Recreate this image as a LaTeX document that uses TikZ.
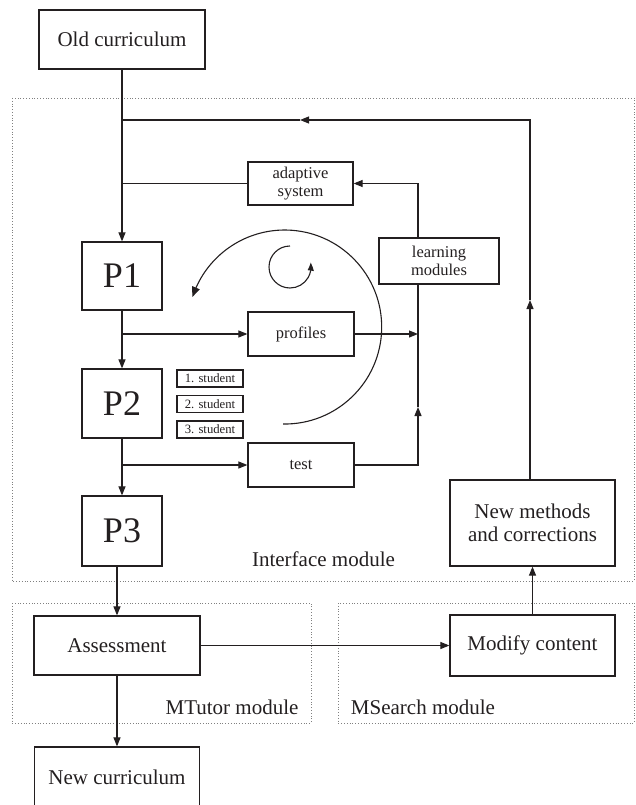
\documentclass[tikz,border=0pt]{standalone}
\usepackage{fontspec}
\setmainfont{Liberation Serif}
\usetikzlibrary{arrows.meta,bending}
\definecolor{ink}{HTML}{231F20}
\begin{document}
\begin{tikzpicture}[x=1pt,y=1pt,
  box/.style={draw=ink, line width=1.2pt, inner sep=0pt, align=center, text=ink},
  conn/.style={draw=ink, line width=1.1pt},
  arr/.style={conn, -{Triangle[length=9pt,width=7pt]}},
  zone/.style={draw=gray, dotted, line width=0.8pt},
  fbig/.style={font=\fontsize{21}{23}\selectfont},
  fmid/.style={font=\fontsize{16.5}{18.5}\selectfont},
  fsmall/.style={font=\fontsize{12.7}{14}\selectfont},
  fhuge/.style={font=\fontsize{36}{40}\selectfont},
  lbl/.style={text=ink, inner sep=0pt}]
\useasboundingbox (0,0) rectangle (635,-805);

% zones
\draw[zone] (12,-98) rectangle (634,-581);
\draw[zone] (12,-603) rectangle (311,-723);
\draw[zone] (338,-603) rectangle (634,-723);

% nodes
\node[box, fbig, minimum width=166pt, minimum height=59pt] (oc) at (122,-39.5) {Old curriculum};
\node[box, fmid, minimum width=105pt, minimum height=43pt] (as) at (300.5,-183.5) {adaptive\\system};
\node[box, fmid, minimum width=120pt, minimum height=46pt] (lm) at (439,-261) {learning\\modules};
\node[box, fhuge, minimum width=80pt, minimum height=68pt] (p1) at (122,-276) {P1};
\node[box, fmid, minimum width=106pt, minimum height=44pt] (prof) at (301,-334) {profiles};
\node[box, fhuge, minimum width=80pt, minimum height=69pt] (p2) at (122,-403.5) {P2};
\node[box, fsmall, minimum width=66pt, minimum height=17pt] (s1) at (210,-378.5) {1. student};
\node[box, fsmall, minimum width=66pt, minimum height=17pt] (s2) at (210,-404) {2. student};
\node[box, fsmall, minimum width=66pt, minimum height=17pt] (s3) at (210,-429.5) {3. student};
\node[box, fmid, minimum width=106pt, minimum height=44pt] (test) at (301,-465) {test};
\node[box, fhuge, minimum width=80pt, minimum height=70pt] (p3) at (122,-531) {P3};
\node[box, fbig, minimum width=165pt, minimum height=86pt] (nm) at (532.5,-523) {New methods\\and corrections};
\node[box, fbig, minimum width=166pt, minimum height=59pt] (assess) at (117,-645.5) {Assessment};
\node[box, fbig, minimum width=165pt, minimum height=61pt] (mod) at (532.5,-645.5) {Modify content};
\node[box, fbig, minimum width=165pt, minimum height=61pt] (nc) at (117,-777.5) {New curriculum};

% zone labels
\node[lbl, fbig] (ifl) at (323.5,-559) {Interface module};
\node[lbl, fbig] (mtl) at (232,-707) {MTutor module};
\node[lbl, fbig] (msl) at (423,-707) {MSearch module};

% helper coordinates
\coordinate (rc) at (530,-120);
\coordinate (rm) at (530,-300);
\coordinate (tm) at (300,-120);
\coordinate (lx) at (418,-333);
\coordinate (up) at (418,-407);

% connectors
\draw[arr] (oc.south) -- (p1.north);
\draw[arr] (nm.north -| rc) -- (rm);
\draw[arr] (rm) -- (rc) -- (tm);
\draw[conn] (tm) -- (tm -| oc.south);
\draw[conn] (as.west) -- (as.west -| oc.south);
\draw[arr] (lm.north -| lx) |- (as.east);
\draw[arr] (prof.east) -- (prof.east -| lx);
\draw[arr] (test.east) -| (up);
\draw[conn] (up) -- (lm.south -| lx);
\draw[arr] (prof.west -| p1.south) -- (prof.west);
\draw[arr] (p1.south) -- (p2.north);
\draw[arr] (test.west -| p2.south) -- (test.west);
\draw[arr] (p2.south) -- (p3.north);
\draw[arr] (assess.north |- p3.south) -- (assess.north);
\draw[arr] (assess.east) -- (mod.west);
\draw[arr] (mod.north) -- (nm.south);
\draw[arr] (assess.south) -- (nc.north);

% cycle arcs
\draw[conn, -{Triangle[length=10pt,width=8pt,bend]}] (283,-424) arc[start angle=-91, end angle=162, radius=97];
\draw[conn, -{Triangle[length=8pt,width=6pt,bend]}] (290,-246) arc[start angle=90, end angle=372, radius=21];
\end{tikzpicture}
\end{document}
